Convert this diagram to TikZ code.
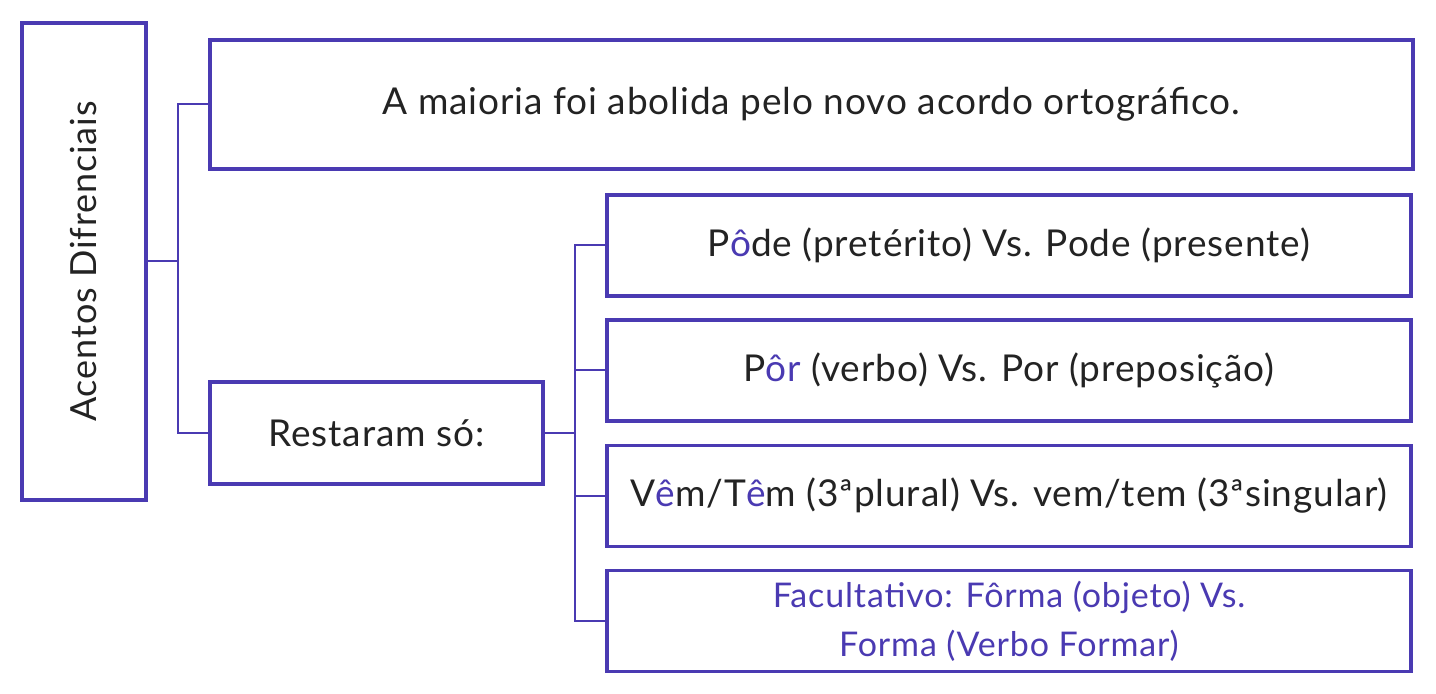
\documentclass[tikz,border=0pt]{standalone}
\usepackage{fontspec}
\setmainfont[LetterSpace=2.5]{Lato}
\definecolor{vio}{RGB}{74,58,178}
\definecolor{txt}{RGB}{35,35,35}
\tikzset{
  box/.style={draw=vio, line width=1.75pt, fill=white, inner sep=0pt, text=txt, align=center, font=\fontsize{18.5}{22}\selectfont},
  link/.style={draw=vio, line width=1pt},
}
\begin{document}
\begin{tikzpicture}[x=0.5pt,y=-0.5pt]
\useasboundingbox (0,0) rectangle (1436,694);
\node[box, minimum width=62pt, minimum height=238.5pt] (L) at (84,261.5) {};
\node[rotate=90, text=txt, font=\fontsize{18}{22}\selectfont] (Lt) at (84,261.5) {Acentos Difrenciais};
\node[box, minimum width=601.5pt, minimum height=64.5pt] (top) at (811.5,104.5) {A maioria foi abolida pelo novo acordo ortográfico.};
\node[box, minimum width=166.5pt, minimum height=51pt] (rest) at (376.5,433) {Restaram só:};
\node[box, minimum width=402pt, minimum height=50.5pt] (b1) at (1009,245.5) {P{\color{vio}ô}de (pretérito) Vs. Pode (presente)};
\node[box, minimum width=402pt, minimum height=50.5pt] (b2) at (1009,370.5) {P{\color{vio}ôr} (verbo) Vs. Por (preposição)};
\node[box, minimum width=402pt, minimum height=50.5pt] (b3) at (1009,496) {V{\color{vio}ê}m/T{\color{vio}ê}m (3ªplural) Vs. vem/tem (3ªsingular)};
\node[box, minimum width=402pt, minimum height=50.5pt, text=vio, font=\fontsize{17}{24.5}\selectfont] (b4) at (1009,621) {Facultativo: Fôrma (objeto) Vs.\\Forma (Verbo Formar)};
\coordinate (j1) at (178,261.5);
\coordinate (j2) at (575,433);
\draw[link] (L.east) -- (j1);
\draw[link] (top.west) -| (j1);
\draw[link] (rest.west) -| (j1);
\draw[link] (rest.east) -- (j2);
\draw[link] (b1.west) -| (j2);
\draw[link] (b2.west) -| (j2);
\draw[link] (b3.west) -| (j2);
\draw[link] (b4.west) -| (j2);
\end{tikzpicture}
\end{document}
